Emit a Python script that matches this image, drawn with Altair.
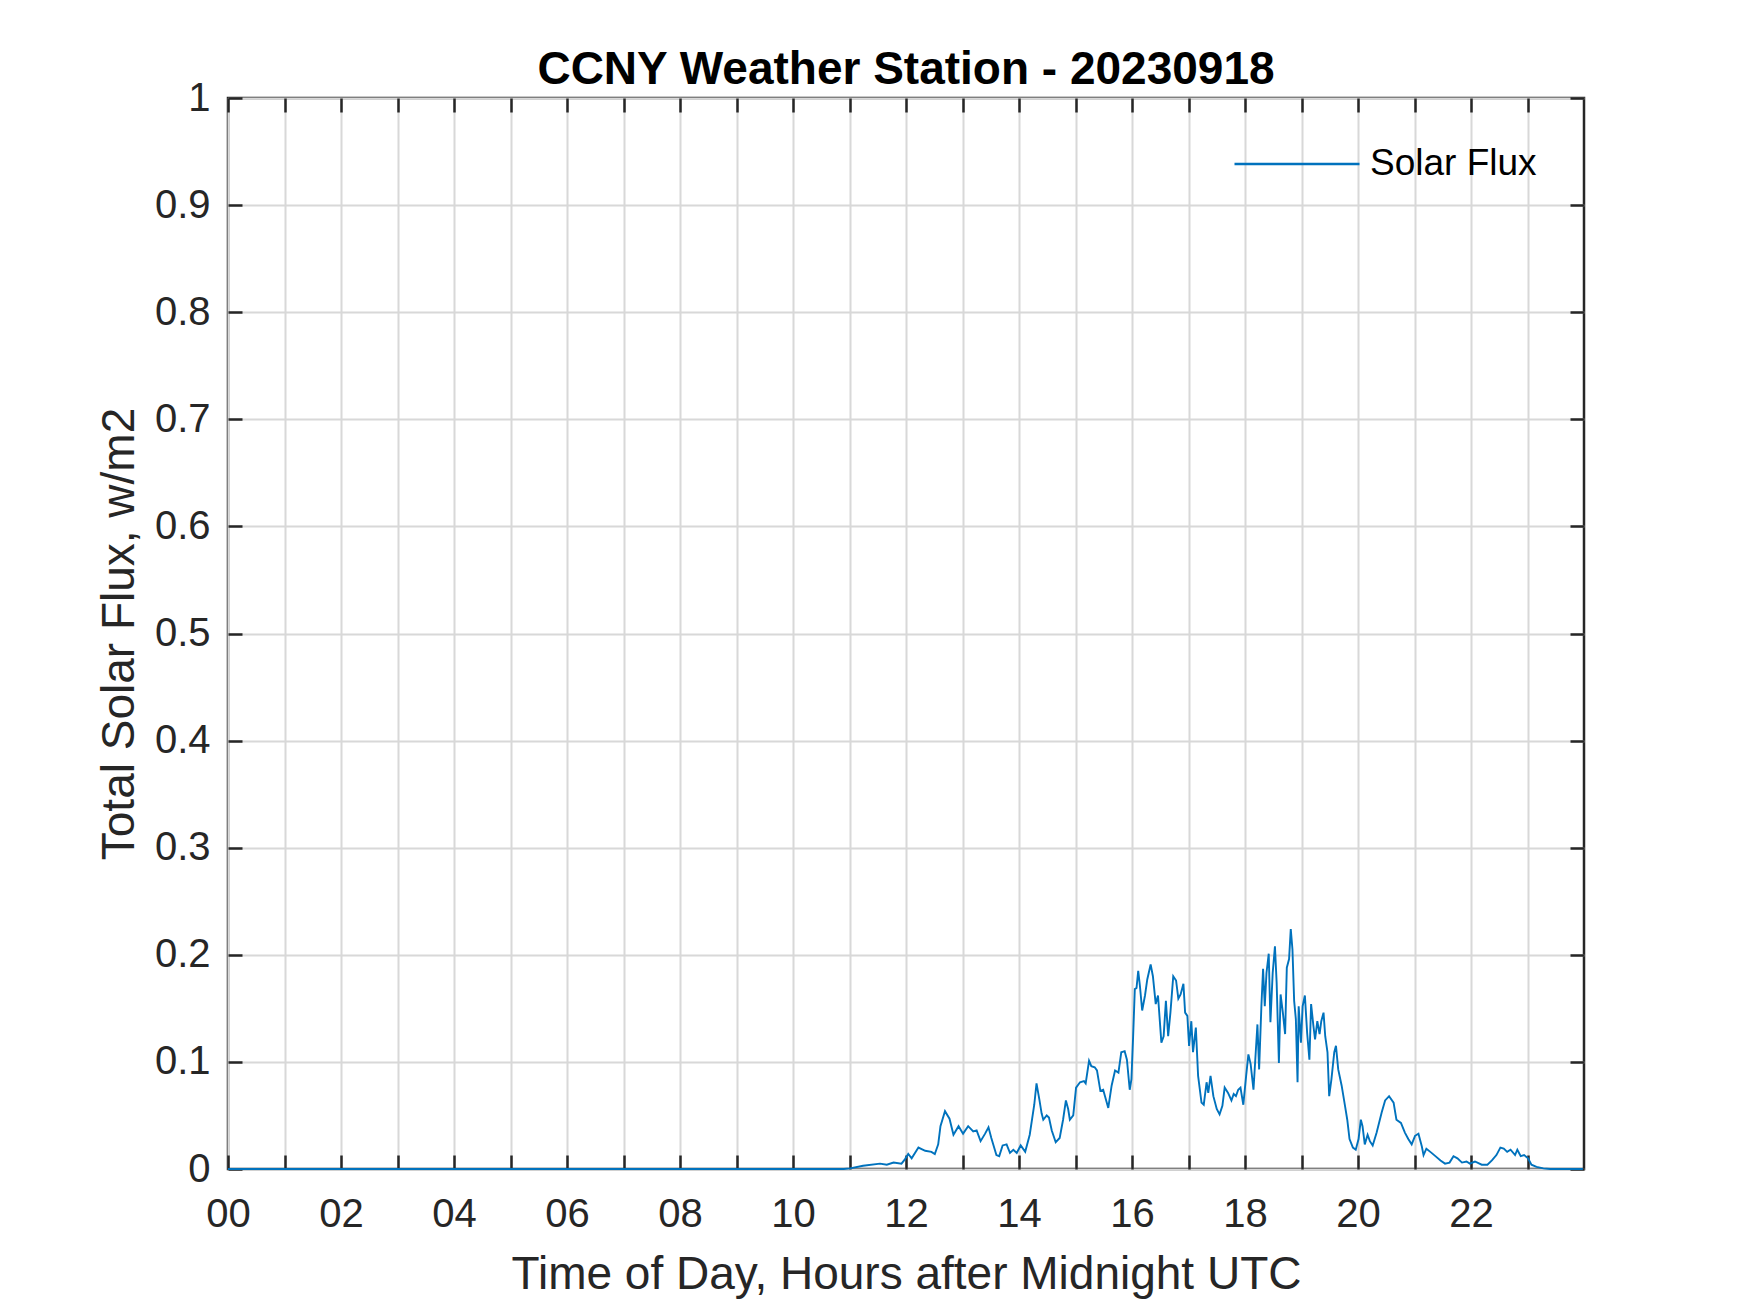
import altair as alt
import pandas as pd

# ---- data (hours after midnight UTC, flux) ----
hours = [0, 10.9, 11.01, 11.24, 11.54, 11.66, 11.78, 11.92, 11.98, 12.04, 12.10, 12.22, 12.34, 12.45,
         12.51, 12.57, 12.61, 12.69, 12.77, 12.84, 12.93, 13.01, 13.10, 13.19, 13.25, 13.32, 13.40,
         13.46, 13.51, 13.60, 13.65, 13.71, 13.78, 13.84, 13.90, 13.96, 14.03, 14.11, 14.19, 14.27,
         14.31, 14.36,
         14.40, 14.43, 14.49, 14.53, 14.58, 14.65, 14.72, 14.78, 14.83, 14.87, 14.90, 14.96, 15.01,
         15.08, 15.15, 15.18, 15.24, 15.28, 15.34, 15.38, 15.44, 15.49, 15.58, 15.64, 15.70, 15.76,
         15.81, 15.87, 15.91, 15.96, 15.99, 16.02, 16.05, 16.08, 16.11, 16.14, 16.18, 16.23, 16.27,
         16.33, 16.37, 16.42, 16.46, 16.52, 16.56, 16.60, 16.64, 16.68, 16.73, 16.78, 16.82, 16.86,
         16.91, 16.94, 16.98, 17.01, 17.05, 17.08, 17.13, 17.17, 17.23, 17.27, 17.32, 17.35, 17.39,
         17.44, 17.50, 17.55, 17.60, 17.64, 17.70,
         17.76, 17.80, 17.84, 17.88, 17.92, 17.97, 18.02, 18.06, 18.10, 18.15, 18.19, 18.22, 18.25,
         18.29, 18.32, 18.35, 18.38, 18.42, 18.45, 18.49, 18.53, 18.56, 18.60, 18.63, 18.67, 18.71,
         18.74, 18.78, 18.81, 18.84, 18.87, 18.90, 18.93, 18.95, 18.99, 19.02, 19.06, 19.10, 19.14,
         19.17, 19.21, 19.24, 19.28, 19.32, 19.35, 19.39, 19.42, 19.46, 19.49, 19.53, 19.58, 19.61,
         19.65, 19.71, 19.77, 19.81, 19.85, 19.91, 19.96, 20.01, 20.05, 20.08, 20.12, 20.17, 20.21,
         20.26, 20.33, 20.42, 20.48, 20.55, 20.63, 20.68, 20.76, 20.83, 20.89, 20.95, 21.01,
         21.07, 21.13, 21.16, 21.21, 21.28, 21.37, 21.46, 21.54, 21.62, 21.69, 21.76, 21.84, 21.92,
         21.98, 22.07, 22.19, 22.29, 22.37, 22.45, 22.52, 22.58, 22.64, 22.70, 22.78, 22.82, 22.88,
         22.94, 23.01, 23.07, 23.16, 23.28, 23.40, 23.98]

flux = [0, 0, 0.0006, 0.003, 0.005, 0.004, 0.006, 0.005, 0.009, 0.014, 0.010, 0.020, 0.017, 0.016,
        0.014, 0.023, 0.040, 0.054, 0.047, 0.032, 0.040, 0.033, 0.040, 0.035, 0.036, 0.026, 0.033,
        0.039, 0.029, 0.013, 0.012, 0.022, 0.023, 0.015, 0.018, 0.015, 0.022, 0.016, 0.032, 0.060,
        0.080, 0.065,
        0.052, 0.046, 0.050, 0.048, 0.036, 0.025, 0.029, 0.046, 0.064, 0.056, 0.046, 0.050, 0.076,
        0.081, 0.082, 0.080, 0.101, 0.096, 0.095, 0.092, 0.073, 0.074, 0.057, 0.078, 0.092, 0.090,
        0.109, 0.110, 0.102, 0.074, 0.084, 0.124, 0.168, 0.169, 0.185, 0.171, 0.148, 0.162, 0.177,
        0.191, 0.180, 0.154, 0.162, 0.118, 0.124, 0.157, 0.124, 0.146, 0.180, 0.176, 0.159, 0.163,
        0.173, 0.146, 0.143, 0.115, 0.138, 0.109, 0.132, 0.087, 0.062, 0.060, 0.081, 0.071, 0.087,
        0.068, 0.056, 0.051, 0.059, 0.076, 0.071,
        0.064, 0.070, 0.068, 0.074, 0.076, 0.060, 0.087, 0.107, 0.098, 0.074, 0.109, 0.135, 0.093,
        0.152, 0.187, 0.152, 0.183, 0.201, 0.137, 0.183, 0.208, 0.174, 0.099, 0.163, 0.146, 0.126,
        0.188, 0.196, 0.224, 0.205, 0.157, 0.140, 0.081, 0.152, 0.118, 0.152, 0.162, 0.127, 0.102,
        0.154, 0.134, 0.121, 0.138, 0.126, 0.138, 0.146, 0.124, 0.109, 0.068, 0.084, 0.109, 0.115,
        0.093, 0.078, 0.059, 0.046, 0.028, 0.020, 0.018, 0.028, 0.046, 0.040, 0.023, 0.032, 0.026,
        0.022, 0.034, 0.053, 0.064, 0.068, 0.062, 0.046, 0.043, 0.034, 0.028, 0.023, 0.031,
        0.033, 0.021, 0.013, 0.019, 0.016, 0.012, 0.008, 0.005, 0.006, 0.012, 0.010, 0.006, 0.007,
        0.005, 0.007, 0.004, 0.004, 0.008, 0.013, 0.020, 0.019, 0.016, 0.018, 0.013, 0.018, 0.012,
        0.013, 0.010, 0.004, 0.002, 0.0006, 0, 0]

series_name = "Solar Flux"
x_ticks = list(range(0, 24))
y_ticks = [0, 0.1, 0.2, 0.3, 0.4, 0.5, 0.6, 0.7, 0.8, 0.9, 1.0]

df = pd.DataFrame({"hour": hours, "flux": flux, "series": series_name})

FONT = "Liberation Sans"
INK = "#262626"
GRID = "#d8d8d8"
TICK = 14
TW = 2.5

xscale = alt.Scale(domain=[0, 24], nice=False, zero=False)
yscale = alt.Scale(domain=[0, 1], nice=False)

x_bottom = alt.Axis(
    orient="bottom", values=x_ticks, format="02d",
    labelExpr="datum.value % 2 == 0 ? datum.label : ''",
    offset=-TICK, tickSize=TICK, tickWidth=TW, tickColor=INK, domain=False,
    grid=True, gridColor=GRID, gridWidth=2,
    labelFont=FONT, labelFontSize=40, labelColor=INK, labelPadding=25,
    labelFlush=False, labelOverlap=False,
    title="Time of Day, Hours after Midnight UTC", titleFont=FONT, titleFontSize=46,
    titleFontWeight="normal", titleColor=INK, titlePadding=18,
)
y_left = alt.Axis(
    orient="left", values=y_ticks, format=".1~f",
    offset=-TICK, tickSize=TICK, tickWidth=TW, tickColor=INK, domain=False,
    grid=True, gridColor=GRID, gridWidth=2,
    labelFont=FONT, labelFontSize=40, labelColor=INK, labelPadding=18,
    labelFlush=False, labelOverlap=False,
    title="Total Solar Flux, w/m2", titleFont=FONT, titleFontSize=46,
    titleFontWeight="normal", titleColor=INK, titlePadding=11,
)
x_top = alt.Axis(
    orient="top", values=x_ticks, labels=False, offset=-TICK, tickSize=TICK,
    tickWidth=TW, tickColor=INK, domain=False, grid=False, title=None,
)
y_right = alt.Axis(
    orient="right", values=y_ticks, labels=False, offset=-TICK, tickSize=TICK,
    tickWidth=TW, tickColor=INK, domain=False, grid=False, title=None,
)

line = alt.Chart(df).mark_line(strokeWidth=1.9, clip=False).encode(
    x=alt.X("hour:Q", scale=xscale, axis=x_bottom),
    y=alt.Y("flux:Q", scale=yscale, axis=y_left),
    color=alt.Color(
        "series:N",
        scale=alt.Scale(domain=[series_name], range=["#0072BD"]),
        legend=alt.Legend(
            title=None, orient="none", legendX=1005, legendY=2, padding=0,
            symbolType="stroke", symbolSize=15625, symbolStrokeWidth=2.5,
            labelFont=FONT, labelFontSize=37, labelColor="black", labelOffset=9,
            labelLimit=0,
        ),
    ),
)

frame = alt.Chart(df).mark_line(strokeOpacity=0).encode(
    x=alt.X("hour:Q", scale=xscale, axis=x_top),
    y=alt.Y("flux:Q", scale=yscale, axis=y_right),
)

chart = (
    alt.layer(line, frame)
    .resolve_axis(x="independent", y="independent")
    .properties(
        width=1356, height=1071,
        autosize=alt.AutoSizeParams(type="none"),
        padding={"left": 220, "top": 90, "right": 150, "bottom": 130},
        title=alt.TitleParams(
            "CCNY Weather Station - 20230918", font=FONT, fontSize=46,
            fontWeight="bold", color="black", offset=12, dy=28, anchor="middle",
        ),
        background="white",
    )
    .configure_view(stroke=INK, strokeWidth=2.5)
)

chart.save("out.html", embed_options={"renderer": "svg", "actions": False})
